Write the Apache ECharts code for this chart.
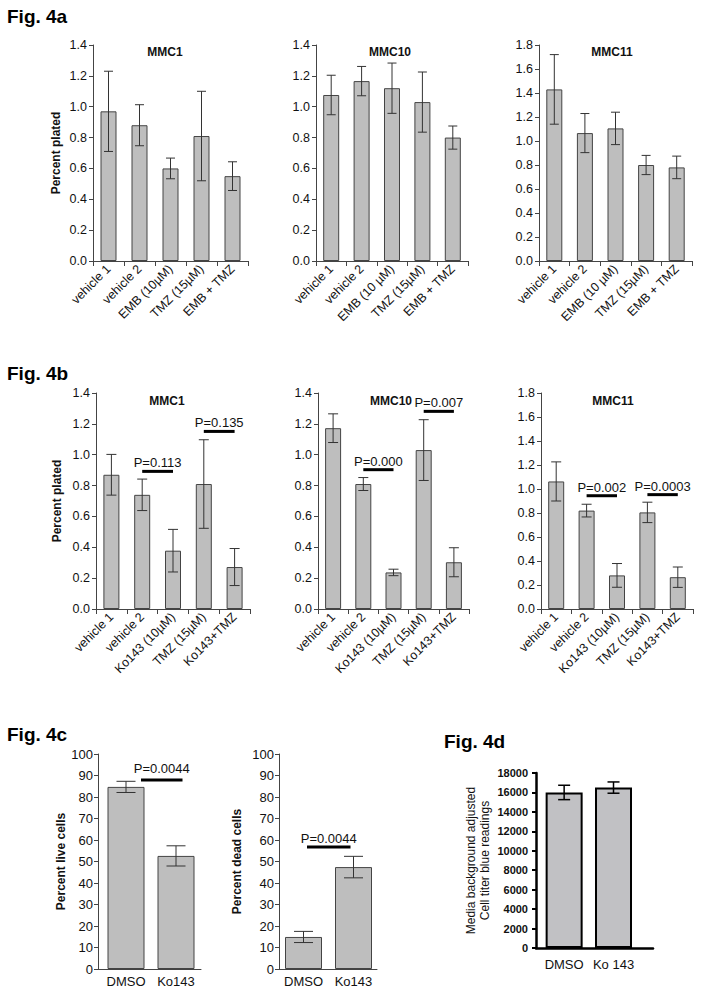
<!DOCTYPE html>
<html><head><meta charset="utf-8">
<script src="https://cdn.jsdelivr.net/npm/echarts@6/dist/echarts.min.js"></script>
<style>html,body{margin:0;padding:0;background:#fff}#c{width:701px;height:994px}</style>
</head><body><div id="c"></div>
<script>
const FONT = '"Liberation Sans", Arial, Helvetica, sans-serif';

// ---------- data ----------
const catsA1  = ['vehicle 1', 'vehicle 2', 'EMB (10µM)', 'TMZ (15µM)', 'EMB + TMZ'];
const catsA10 = ['vehicle 1', 'vehicle 2', 'EMB (10 µM)', 'TMZ (15µM)', 'EMB + TMZ'];
const catsA11 = ['vehicle 1', 'vehicle 2', 'EMB (10 µM)', 'TMZ (15µM)', 'EMB + TMZ'];
const catsB   = ['vehicle 1', 'vehicle 2', 'Ko143 (10µM)', 'TMZ (15µM)', 'Ko143+TMZ'];
const catsC   = ['DMSO', 'Ko143'];
const catsD   = ['DMSO', 'Ko 143'];

const a1Mean  = [0.97, 0.88, 0.60, 0.81, 0.55];
const a1Err   = [0.26, 0.133, 0.067, 0.29, 0.093];
const a10Mean = [1.076, 1.166, 1.12, 1.03, 0.80];
const a10Err  = [0.128, 0.095, 0.163, 0.195, 0.075];
const a11Mean = [1.43, 1.066, 1.105, 0.80, 0.78];
const a11Err  = [0.29, 0.163, 0.135, 0.08, 0.094];

const b1Mean  = [0.87, 0.74, 0.378, 0.81, 0.272];
const b1Err   = [0.132, 0.102, 0.138, 0.287, 0.12];
const b10Mean = [1.172, 0.81, 0.237, 1.03, 0.303];
const b10Err  = [0.093, 0.042, 0.021, 0.197, 0.094];
const b11Mean = [1.063, 0.82, 0.28, 0.805, 0.265];
const b11Err  = [0.163, 0.053, 0.099, 0.085, 0.085];

const cLiveMean = [84.7, 52.6];
const cLiveErr  = [2.6, 4.7];
const cDeadMean = [14.9, 47.4];
const cDeadErr  = [2.6, 5.0];

const dMean = [16000, 16500];
const dErr  = [740, 580];

// significance bars: from category, to category, height, text
const b1Sig  = [{from: 1, to: 2, y: 0.892, text: 'P=0.113'}, {from: 3, to: 4, y: 1.151, text: 'P=0.135'}];
const b10Sig = [{from: 1, to: 2, y: 0.903, text: 'P=0.000'}, {from: 3, to: 4, y: 1.281, text: 'P=0.007'}];
const b11Sig = [{from: 1, to: 2, y: 0.944, text: 'P=0.002'}, {from: 3, to: 4, y: 0.953, text: 'P=0.0003'}];
const cLiveSig = [{from: 0.30, to: 1.13, y: 87.9, text: 'P=0.0044'}];
const cDeadSig = [{from: 0.07, to: 0.94, y: 56.7, text: 'P=0.0044'}];

// ---------- layout / style ----------
const panels = [
  {kind: 'cat', cats: catsA1, mean: a1Mean, err: a1Err, grid: {left: 93, top: 45, width: 155, height: 216},
   yMax: 1.4, yInt: 0.2, dec: 1, name: 'Percent plated', nameGap: 31, cap: 9},
  {kind: 'cat', cats: catsA10, mean: a10Mean, err: a10Err, grid: {left: 316, top: 45, width: 152, height: 216},
   yMax: 1.4, yInt: 0.2, dec: 1, cap: 9},
  {kind: 'cat', cats: catsA11, mean: a11Mean, err: a11Err, grid: {left: 539, top: 45, width: 153, height: 216},
   yMax: 1.8, yInt: 0.2, dec: 1, cap: 9},
  {kind: 'cat', cats: catsB, mean: b1Mean, err: b1Err, sig: b1Sig, grid: {left: 96, top: 393, width: 154, height: 216},
   yMax: 1.4, yInt: 0.2, dec: 1, name: 'Percent plated', nameGap: 33, cap: 10},
  {kind: 'cat', cats: catsB, mean: b10Mean, err: b10Err, sig: b10Sig, grid: {left: 318, top: 393, width: 151, height: 216},
   yMax: 1.4, yInt: 0.2, dec: 1, cap: 10},
  {kind: 'cat', cats: catsB, mean: b11Mean, err: b11Err, sig: b11Sig, grid: {left: 541, top: 393, width: 152, height: 216},
   yMax: 1.8, yInt: 0.2, dec: 1, cap: 10},
  {kind: 'val', cats: catsC, mean: cLiveMean, err: cLiveErr, sig: cLiveSig, sigDy: -5,
   grid: {left: 98, top: 754, width: 103, height: 215}, xMin: -0.56, xMax: 1.5,
   yMax: 100, yInt: 10, dec: 0, name: 'Percent live cells', nameGap: 30, cap: 19, barW: 37},
  {kind: 'val', cats: catsC, mean: cDeadMean, err: cDeadErr, sig: cDeadSig,
   grid: {left: 279, top: 754, width: 98, height: 215}, xMin: -0.49, xMax: 1.47,
   yMax: 100, yInt: 10, dec: 0, name: 'Percent dead cells', nameGap: 36, cap: 19, barW: 37},
  {kind: 'val', heavy: true, cats: catsD, mean: dMean, err: dErr,
   grid: {left: 536, top: 773, width: 117, height: 175}, xMin: -0.57, xMax: 1.8,
   yMax: 18000, yInt: 2000, dec: 0, name: 'Media background adjusted\nCell titer blue readings', nameGap: 44, cap: 12, barW: 37}
];

function errorRenderer(capW, color, lw) {
  return function (params, api) {
    const x = api.value(0), m = api.value(1), e = api.value(2);
    const top = api.coord([x, m + e]);
    const bot = api.coord([x, m - e]);
    const h = capW / 2;
    const st = {stroke: color, lineWidth: lw, fill: 'none'};
    return {type: 'group', children: [
      {type: 'line', shape: {x1: top[0], y1: top[1], x2: bot[0], y2: bot[1]}, style: st},
      {type: 'line', shape: {x1: top[0] - h, y1: top[1], x2: top[0] + h, y2: top[1]}, style: st},
      {type: 'line', shape: {x1: bot[0] - h, y1: bot[1], x2: bot[0] + h, y2: bot[1]}, style: st}
    ]};
  };
}
function sigRenderer(list, dy) {
  return function (params, api) {
    const a = api.coord([api.value(0), api.value(2)]);
    const b = api.coord([api.value(1), api.value(2)]);
    return {type: 'group', children: [
      {type: 'line', shape: {x1: a[0], y1: a[1], x2: b[0], y2: b[1]}, style: {stroke: '#000', lineWidth: 3}},
      {type: 'text', x: (a[0] + b[0]) / 2, y: a[1] + dy,
       style: {text: list[params.dataIndex].text, align: 'center', verticalAlign: 'bottom',
               fontSize: 13, fontFamily: FONT, fill: '#111'}}
    ]};
  };
}

const grids = [], xAxes = [], yAxes = [], series = [];
panels.forEach((p, gi) => {
  grids.push(Object.assign({containLabel: false, outerBoundsMode: 'none'}, p.grid));
  const axisColor = p.heavy ? '#000' : '#444';
  const axisW = p.heavy ? 2.5 : 1;
  let xMain, xVal;
  if (p.kind === 'cat') {
    xMain = xAxes.length;
    xAxes.push({type: 'category', gridIndex: gi, data: p.cats,
      axisLine: {onZero: false, lineStyle: {color: axisColor, width: axisW}},
      axisTick: {show: true, length: 5, lineStyle: {color: axisColor}},
      axisLabel: {interval: 0, rotate: 45, margin: 6, fontSize: 12.5, color: '#111', fontFamily: FONT}});
    xVal = xAxes.length;
    xAxes.push({type: 'value', gridIndex: gi, min: -0.5, max: p.cats.length - 0.5, show: false,
      axisLine: {onZero: false}});
  } else {
    xMain = xVal = xAxes.length;
    xAxes.push({type: 'value', gridIndex: gi, min: p.xMin, max: p.xMax,
      splitLine: {show: false},
      axisLine: {show: true, onZero: false, lineStyle: {color: axisColor, width: axisW}},
      axisTick: {show: false},
      axisLabel: {customValues: p.cats.map((c, i) => i), formatter: v => p.cats[Math.round(v)],
                  margin: p.heavy ? 10 : 6, fontSize: 13, color: '#111', fontFamily: FONT}});
  }
  yAxes.push({type: 'value', gridIndex: gi, min: 0, max: p.yMax, interval: p.yInt,
    splitLine: {show: false},
    axisLine: {show: true, onZero: false, lineStyle: {color: axisColor, width: axisW}},
    axisTick: {show: true, length: 4, lineStyle: {color: axisColor, width: p.heavy ? 2 : 1}},
    axisLabel: {formatter: v => v.toFixed(p.dec), margin: p.heavy ? 8 : (p.kind === 'cat' ? 6 : 5),
                fontSize: p.heavy ? 11 : (p.kind === 'cat' ? 12.5 : 13),
                fontWeight: p.heavy ? 'bold' : 'normal', color: '#111', fontFamily: FONT},
    name: p.name || '', nameLocation: 'middle', nameGap: p.nameGap || 30,
    nameTextStyle: p.heavy
      ? {fontSize: 12, fontWeight: 'normal', color: '#111', fontFamily: FONT, lineHeight: 14}
      : {fontSize: 12, fontWeight: 'bold', color: '#111', fontFamily: FONT}});

  series.push({type: 'bar', xAxisIndex: xMain, yAxisIndex: gi, silent: true,
    barWidth: p.barW || 16,
    data: p.kind === 'cat' ? p.mean : p.mean.map((v, i) => [i, v]),
    itemStyle: {color: p.heavy ? '#c1c1c4' : '#bebebe', borderColor: p.heavy ? '#000' : '#444', borderWidth: p.heavy ? 2 : 1}});
  series.push({type: 'custom', xAxisIndex: xMain, yAxisIndex: gi, silent: true, z: 5,
    data: p.mean.map((m, i) => [i, m, p.err[i]]), encode: {x: 0, y: 1},
    renderItem: errorRenderer(p.cap, p.heavy ? '#000' : '#333', p.heavy ? 1.5 : 1)});
  if (p.sig) {
    series.push({type: 'custom', xAxisIndex: xVal, yAxisIndex: gi, silent: true, z: 6,
      data: p.sig.map(s => [s.from, s.to, s.y]), encode: {x: [0, 1], y: 2},
      renderItem: sigRenderer(p.sig, p.sigDy != null ? p.sigDy : -2)});
  }
});

const figLabels = [
  {text: 'Fig. 4a', x: 7, y: 16}, {text: 'Fig. 4b', x: 7, y: 373},
  {text: 'Fig. 4c', x: 7, y: 734}, {text: 'Fig. 4d', x: 444, y: 741}
];
const panelTitles = [
  {text: 'MMC1', x: 165, y: 52}, {text: 'MMC10', x: 390, y: 52}, {text: 'MMC11', x: 612, y: 52},
  {text: 'MMC1', x: 167, y: 401}, {text: 'MMC10', x: 391, y: 401}, {text: 'MMC11', x: 613, y: 401}
];
const graphic = [];
figLabels.forEach(f => graphic.push({type: 'text', x: f.x, y: f.y,
  style: {text: f.text, align: 'left', verticalAlign: 'middle', fontSize: 19, fontWeight: 'bold', fontFamily: FONT, fill: '#000'}}));
panelTitles.forEach(f => graphic.push({type: 'text', x: f.x, y: f.y,
  style: {text: f.text, align: 'center', verticalAlign: 'middle', fontSize: 12, fontWeight: 'bold', fontFamily: FONT, fill: '#111'}}));

const chart = echarts.init(document.getElementById('c'), null, {renderer: 'svg'});
chart.setOption({
  backgroundColor: '#fff',
  animation: false,
  textStyle: {fontFamily: FONT},
  grid: grids, xAxis: xAxes, yAxis: yAxes, series: series, graphic: graphic
});
</script></body></html>
